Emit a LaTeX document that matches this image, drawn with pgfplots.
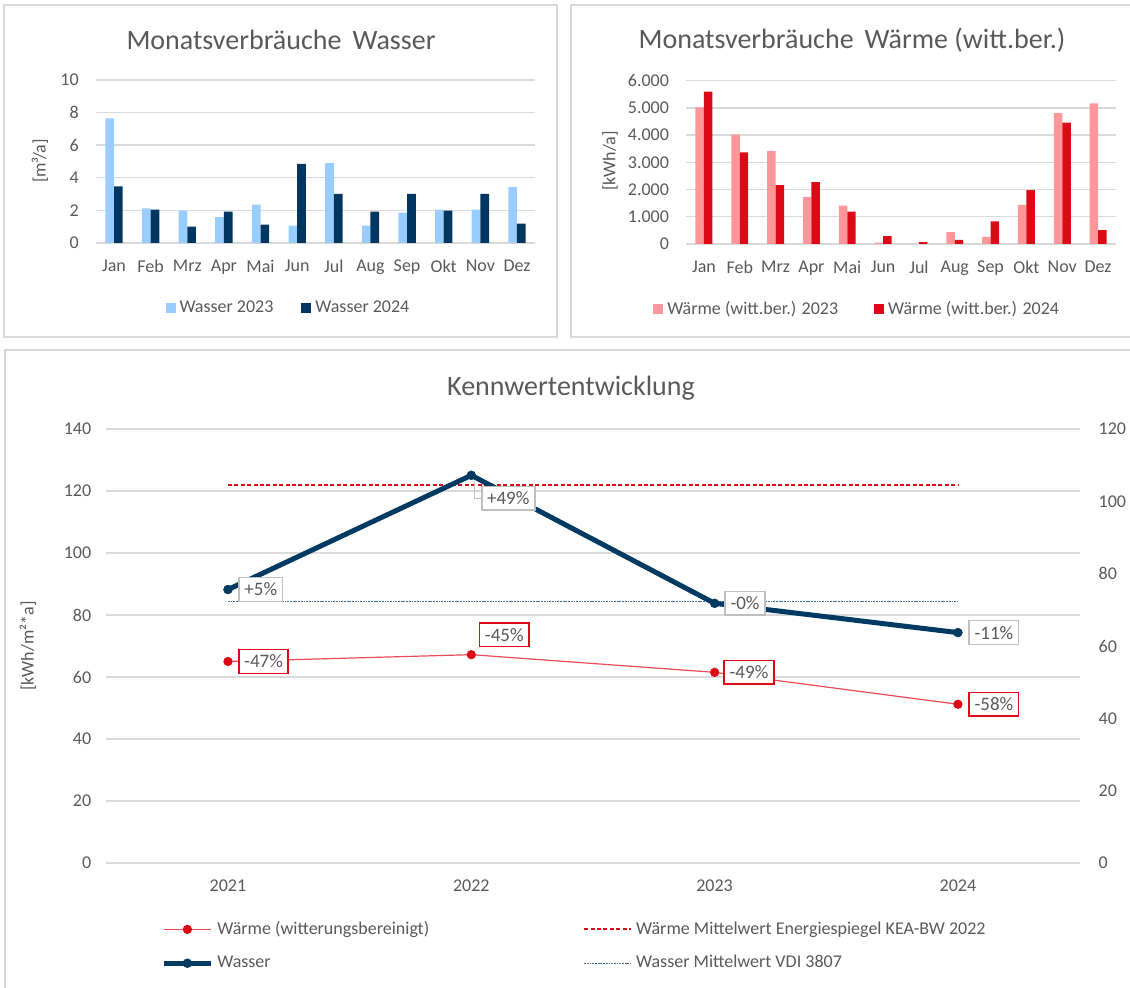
\documentclass[border=0pt]{standalone}
\usepackage{fontspec}
\setmainfont{Carlito}
\usepackage{pgfplots}
\pgfplotsset{compat=1.18}
\definecolor{txtgray}{HTML}{595959}
\definecolor{gridgray}{HTML}{D9D9D9}
\definecolor{bordergray}{HTML}{D9D9D9}
\definecolor{lightblue}{HTML}{99CCFF}
\definecolor{navy}{HTML}{003660}
\definecolor{pinkbar}{HTML}{FF9699}
\definecolor{wred}{HTML}{DC0A16}
\definecolor{linered}{HTML}{E84B55}
\definecolor{waterline}{HTML}{003A63}
\definecolor{vdiblue}{HTML}{3A6E9E}
\definecolor{labelgray}{HTML}{BFBFBF}

\tikzset{lab/.style={anchor=center, line width=0.8pt, fill=white, text=txtgray,
    font=\fontsize{9.5}{11}\selectfont, inner sep=2.7pt}}

\pgfplotsset{
  base/.style={
    scale only axis,
    axis line style={draw=none},
    major tick length=0pt,
    ymajorgrids,
    grid style={draw=gridgray, line width=0.7pt},
    tick label style={font=\fontsize{9}{11}\selectfont, text=txtgray},
    /pgf/number format/assume math mode=true,
    enlargelimits=false,
    clip=false,
    legend cell align=left,
  },
  barbase/.style={
    base,
    xmin=-0.5, xmax=11.5,
    xtick={0,...,11},
    xticklabels={Jan,Feb,Mrz,Apr,Mai,Jun,Jul,Aug,Sep,Okt,Nov,Dez},
    xticklabel style={yshift=-5pt},
    yticklabel style={xshift=-5pt},
    legend columns=2,
    legend style={draw=none, fill=none, font=\fontsize{9}{11}\selectfont, text=txtgray, inner sep=0pt,
      /tikz/every even column/.append style={column sep=12pt}},
    legend image code/.code={\fill[##1] (0pt,-2.5pt) rectangle (5pt,2.5pt);},
  },
}

\begin{document}
\begin{tikzpicture}
\useasboundingbox (0,0) rectangle (565pt,494pt);
% panel borders
\draw[bordergray, line width=0.75pt] (2pt,491.5pt) rectangle (278.5pt,325.5pt);
\draw[bordergray, line width=0.75pt] (285.5pt,491.5pt) rectangle (575pt,325.5pt);
\draw[bordergray, line width=0.75pt] (2.5pt,319pt) rectangle (575pt,-6pt);

% titles and labels
\node[text=txtgray, font=\fontsize{14}{16}\selectfont] at (140.5pt,474pt) {Monatsverbräuche\, Wasser};
\node[text=txtgray, font=\fontsize{14}{16}\selectfont] at (426pt,474pt) {Monatsverbräuche\, Wärme (witt.ber.)};
\node[text=txtgray, font=\fontsize{14}{16}\selectfont] at (285.5pt,300pt) {Kennwertentwicklung};
\node[text=txtgray, font=\fontsize{9}{11}\selectfont, rotate=90] at (20pt,413.5pt) {[m³/a]};
\node[text=txtgray, font=\fontsize{9}{11}\selectfont, rotate=90] at (305pt,413.5pt) {[kWh/a]};
\node[text=txtgray, font=\fontsize{9}{11}\selectfont, rotate=90] at (14pt,171pt) {[kWh/m²*a]};

% ---------- top left
\begin{axis}[barbase, at={(47.85pt,372.5pt)}, anchor=south west, width=219.8pt, height=81.5pt,
  ymin=0, ymax=10, ytick={0,2,...,10},
  legend style={at={(0.158,-0.40)}, anchor=west}]
\addplot[ybar, bar width=0.237, bar shift=-0.1185, fill=lightblue, draw=none] coordinates {
(0,7.65) (1,2.13) (2,1.99) (3,1.59) (4,2.36) (5,1.06) (6,4.90) (7,1.06) (8,1.87) (9,2.05) (10,2.05) (11,3.43)};
\addlegendentry{Wasser 2023}
\addplot[ybar, bar width=0.237, bar shift=0.1185, fill=navy, draw=none] coordinates {
(0,3.48) (1,2.05) (2,1.00) (3,1.93) (4,1.12) (5,4.86) (6,3.01) (7,1.93) (8,3.01) (9,1.99) (10,3.01) (11,1.18)};
\addlegendentry{Wasser 2024}
\end{axis}

% ---------- top right
\begin{axis}[barbase, at={(343pt,372pt)}, anchor=south west, width=215pt, height=81.65pt,
  ymin=0, ymax=6000, ytick={0,1000,...,6000}, scaled y ticks=false,
  /pgf/number format/.cd, 1000 sep={.}, /pgfplots/.cd,
  legend style={at={(-0.077,-0.40)}, anchor=west, /tikz/every even column/.append style={column sep=16pt}}]
\addplot[ybar, bar width=0.237, bar shift=-0.1185, fill=pinkbar, draw=none] coordinates {
(0,5020) (1,4020) (2,3420) (3,1730) (4,1410) (5,50) (6,0) (7,440) (8,260) (9,1440) (10,4810) (11,5170)};
\addlegendentry{Wärme (witt.ber.) 2023}
\addplot[ybar, bar width=0.237, bar shift=0.1185, fill=wred, draw=none] coordinates {
(0,5600) (1,3370) (2,2160) (3,2270) (4,1190) (5,290) (6,70) (7,150) (8,830) (9,1980) (10,4460) (11,510)};
\addlegendentry{Wärme (witt.ber.) 2024}
\end{axis}

% ---------- bottom, left axis (Wärme)
\begin{axis}[base, at={(53.15pt,62.5pt)}, anchor=south west, width=486.65pt, height=217pt,
  xmin=-0.5, xmax=3.5, xtick={0,1,2,3}, xticklabels={2021,2022,2023,2024},
  ymin=0, ymax=140, ytick={0,20,...,140},
  yticklabel style={xshift=-4pt}, xticklabel style={yshift=-5pt},
  legend columns=2,
  legend style={at={(0.05,-0.115)}, anchor=north west, draw=none, fill=none,
    font=\fontsize{9}{11}\selectfont, text=txtgray, row sep=5pt,
    /tikz/every even column/.append style={column sep=75pt}},
  legend image code/.code={\draw[mark repeat=2,mark phase=2,#1] plot coordinates {(0pt,0pt) (11.75pt,0pt) (23.5pt,0pt)};},
]
\addplot[color=linered, line width=0.6pt, mark=*, mark size=2pt, mark options={fill=wred, draw=wred},
  nodes near coords={\pgfplotspointmeta\%}, point meta=explicit symbolic,
  visualization depends on={\thisrow{dx} \as \dx},
  visualization depends on={\thisrow{dy} \as \dy},
  nodes near coords style={lab, xshift=\dx pt, yshift=\dy pt, draw=wred}]
  table[x=x, y=y, meta=lab] {
x y dx dy lab
0 65.0 17.8 0 -47
1 67.2 16.5 10 -45
2 61.5 17.2 0 -49
3 51.2 18 0 -58
};
\addlegendentry{Wärme (witterungsbereinigt)}
\addplot[wred, line width=1pt, dash pattern=on 2pt off 1.2pt] coordinates {(0,121.8) (1,121.8) (2,121.8) (3,121.8)};
\addlegendentry{Wärme Mittelwert Energiespiegel KEA-BW 2022}
\addlegendimage{color=waterline, line width=2.5pt, mark=*, mark size=2.2pt, mark options={line width=0.3pt, fill=waterline}}
\addlegendentry{Wasser}
\addlegendimage{color=vdiblue, line width=0.7pt, dash pattern=on 0.9pt off 0.45pt}
\addlegendentry{Wasser Mittelwert VDI 3807}
\end{axis}

% ---------- bottom, right axis (Wasser)
\begin{axis}[base, ymajorgrids=false, at={(53.15pt,62.5pt)}, anchor=south west, width=486.65pt, height=217pt,
  xmin=-0.5, xmax=3.5, hide x axis,
  ymin=0, ymax=120, ytick={0,20,...,120}, axis y line*=right,
  yticklabel style={xshift=6pt}]
\addplot[vdiblue, line width=0.7pt, dash pattern=on 0.9pt off 0.45pt] coordinates {(0,72.3) (1,72.3) (2,72.3) (3,72.3)};
\draw[labelgray, line width=0.6pt] (axis cs:1,107.2) ++(1.5pt,-3pt) |- ++(5.5pt,-8.5pt);
\addplot[color=waterline, line width=2.5pt, mark=*, mark size=2.2pt, mark options={line width=0.3pt, fill=waterline},
  nodes near coords={\pgfplotspointmeta\%}, point meta=explicit symbolic,
  visualization depends on={\thisrow{dx} \as \dx},
  visualization depends on={\thisrow{dy} \as \dy},
  nodes near coords style={lab, xshift=\dx pt, yshift=\dy pt, draw=labelgray}]
  table[x=x, y=y, meta=lab] {
x y dx dy lab
0 75.6 16.4 0 +5
1 107.2 18.5 -11.5 +49
2 71.8 15.2 0 -0
3 63.7 18 0 -11
};
\end{axis}
\end{tikzpicture}
\end{document}
